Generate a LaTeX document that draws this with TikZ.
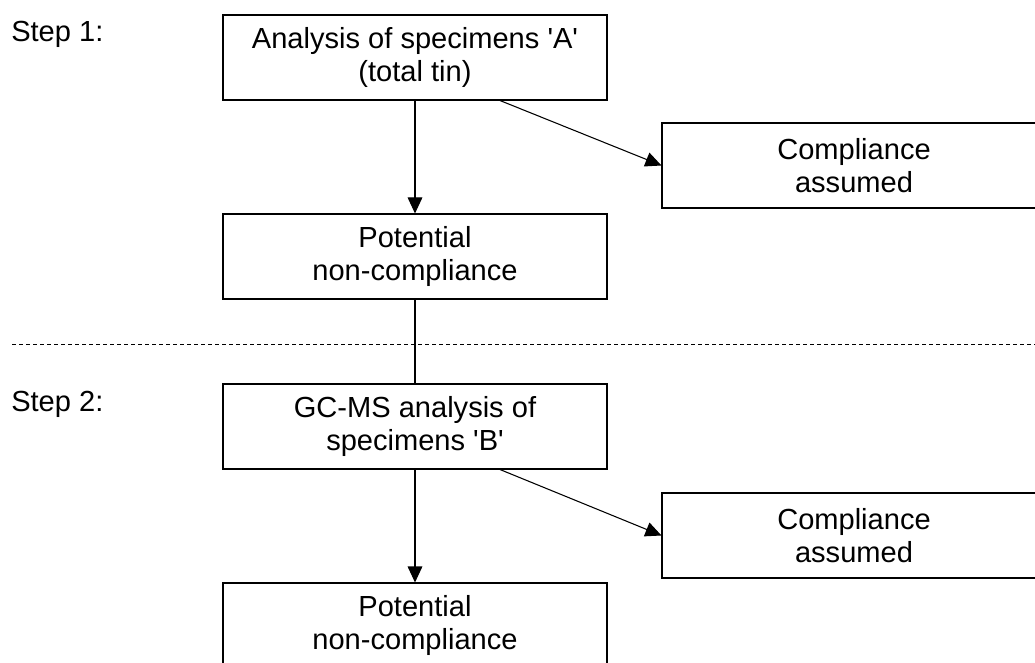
\documentclass[tikz,border=0pt]{standalone}
\usepackage{fontspec}
\setmainfont{Liberation Sans}
\usetikzlibrary{arrows.meta}
\begin{document}
\begin{tikzpicture}[x=0.75pt,y=-0.75pt,
	box/.style={draw,line width=0.8pt,minimum width=288pt,minimum height=63.75pt,align=center,inner sep=2pt},
	arr/.style={-{Triangle[length=12pt,width=11pt]},line width=0.8pt},
	font=\fontsize{21.8}{24.75}\selectfont]
	\useasboundingbox (0,0) rectangle (1035,663);
	\node[anchor=base west,inner sep=0pt] at (11,42) (step1) {Step 1:};
	\node[anchor=base west,inner sep=0pt] at (11,411) (step2) {Step 2:};
	\node[box] at (415,57.5) (analysisA) {Analysis of specimens \textquotesingle A\textquotesingle\\(total tin)};
	\node[box] at (854,165.5) (compA) {Compliance\\assumed};
	\node[box] at (415,256.5) (potA) {Potential\\non-compliance};
	\node[box] at (415,426.5) (gcmsB) {GC-MS analysis of\\specimens \textquotesingle B\textquotesingle};
	\node[box] at (854,535.5) (compB) {Compliance\\assumed};
	\node[box] at (415,625.5) (potB) {Potential\\non-compliance};
	\draw[dashed,dash pattern=on 3pt off 2.25pt,line width=0.6pt] (12,344) -- (1035,344);
	\draw[arr] (analysisA) -- (potA);
	\draw[arr] ([xshift=63.75pt]analysisA.south) -- (compA.west);
	\draw[line width=0.8pt] (potA) -- (gcmsB);
	\draw[arr] (gcmsB) -- (potB);
	\draw[arr] ([xshift=63.75pt]gcmsB.south) -- (compB.west);
\end{tikzpicture}
\end{document}
